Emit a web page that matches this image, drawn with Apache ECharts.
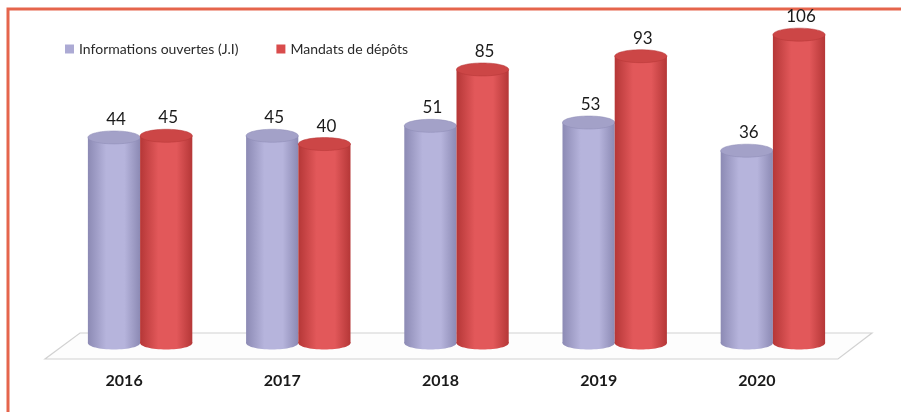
<!DOCTYPE html>
<html lang="fr">
<head>
    <meta charset="UTF-8">
    <title>Informations ouvertes / Mandats de dépôts</title>
    <style>
        html, body { margin: 0; padding: 0; background: #ffffff; }
        #main { width: 901px; height: 412px; }
    </style>
</head>
<body>
<div id="main"></div>
<script src="https://cdn.jsdelivr.net/npm/echarts@6/dist/echarts.min.js"></script>
<script>
    var years = ['2016', '2017', '2018', '2019', '2020'];
    var informations = [44, 45, 51, 53, 36];
    var mandats = [45, 40, 85, 93, 106];

    // hidden value axis: base of the 3D cylinders sits below zero, as in the original
    var yMin = -80, yMax = 110;

    var myChart = echarts.init(document.getElementById('main'));

    function cylinder(offset, side, mid, topColor) {
        return function (params, api) {
            var idx = api.value(0);
            var v = api.value(1);
            var top = api.coord([idx, v]);
            var base = api.coord([idx, yMin]);
            var band = api.size([1, 0])[0];
            var w = band * 0.33;
            var cx = top[0] + offset * band;
            var ry = 6.5;
            var grad = new echarts.graphic.LinearGradient(0, 0, 1, 0, [
                {offset: 0, color: side},
                {offset: 0.35, color: mid},
                {offset: 0.7, color: mid},
                {offset: 1, color: side}
            ]);
            return {
                type: 'group',
                children: [
                    {
                        type: 'ellipse',
                        shape: {cx: cx, cy: base[1], rx: w / 2, ry: ry},
                        style: {fill: grad}
                    },
                    {
                        type: 'rect',
                        shape: {x: cx - w / 2, y: top[1], width: w, height: base[1] - top[1]},
                        style: {fill: grad}
                    },
                    {
                        type: 'ellipse',
                        shape: {cx: cx, cy: top[1], rx: w / 2, ry: ry},
                        style: {fill: topColor, stroke: side, lineWidth: 0.5}
                    },
                    {
                        type: 'text',
                        style: {
                            x: cx + 2,
                            y: top[1] - 18,
                            text: String(v),
                            fill: '#1a1a1a',
                            font: '17px Lato',
                            align: 'center',
                            verticalAlign: 'middle'
                        }
                    }
                ]
            };
        };
    }

    option = {
        backgroundColor: '#ffffff',
        animation: false,
        legend: {
            left: 60,
            top: 37,
            itemWidth: 9,
            itemHeight: 9,
            itemGap: 38,
            icon: 'rect',
            textStyle: {fontFamily: 'Lato', fontSize: 14, color: '#2a2a2a'},
            data: ['Informations ouvertes (J.I)', 'Mandats de dépôts']
        },
        grid: {
            left: 61,
            right: 49,
            top: 28,
            bottom: 69
        },
        xAxis: {
            type: 'category',
            data: years,
            axisLine: {show: false},
            axisTick: {show: false},
            axisLabel: {
                margin: 30,
                padding: [0, 32, 0, 0],
                fontFamily: 'Lato',
                fontWeight: 'bold',
                fontSize: 16,
                color: '#1a1a1a'
            }
        },
        yAxis: {
            type: 'value',
            min: yMin,
            max: yMax,
            show: false
        },
        graphic: [
            {
                type: 'rect',
                shape: {x: 8, y: 9, width: 1000, height: 1000},
                style: {fill: 'none', stroke: '#e5654c', lineWidth: 3},
                z: 0
            },
            {
                type: 'polygon',
                shape: {points: [[45, 359], [838, 359], [872, 333], [80, 333]]},
                style: {fill: '#fdfdfd', stroke: '#d2d2d2', lineWidth: 1.2},
                z: 0
            }
        ],
        series: [
            {
                name: 'Informations ouvertes (J.I)',
                type: 'custom',
                itemStyle: {color: '#acaad4'},
                renderItem: cylinder(-0.165, '#8c8ab4', '#b6b4dc', '#a3a1c8'),
                encode: {x: 0, y: 1},
                data: informations.map(function (v, i) { return [i, v]; }),
                z: 2
            },
            {
                name: 'Mandats de dépôts',
                type: 'custom',
                itemStyle: {color: '#d94c4c'},
                renderItem: cylinder(0.165, '#b53737', '#e2585a', '#cc4646'),
                encode: {x: 0, y: 1},
                data: mandats.map(function (v, i) { return [i, v]; }),
                z: 3
            }
        ]
    };

    myChart.setOption(option);
</script>
</body>
</html>
